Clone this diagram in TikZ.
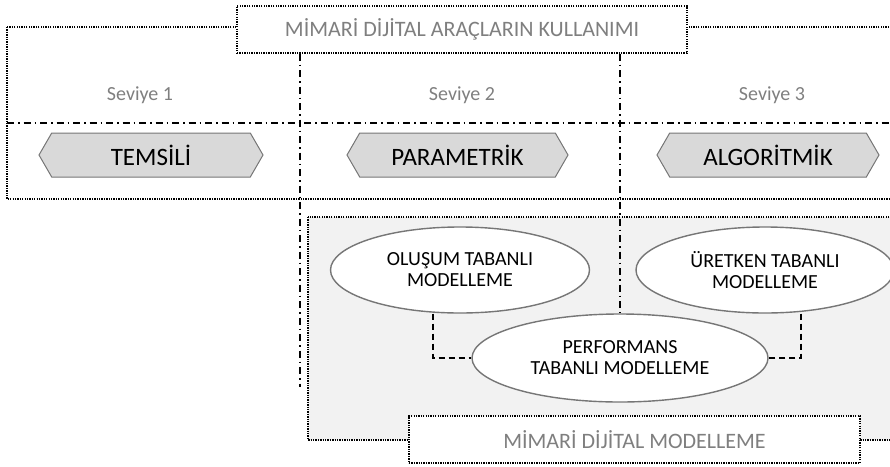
\documentclass[tikz,border=0pt]{standalone}
\usepackage{fontspec}
\setmainfont{Carlito}
\usepackage{xcolor}
\usepackage{tikz}
\usetikzlibrary{arrows.meta,positioning,shapes.geometric,shapes.symbols,calc}
\definecolor{DijitalGray}{HTML}{7F7F7F}
\definecolor{DijitalHex}{HTML}{D9D9D9}
\definecolor{DijitalPanel}{HTML}{F2F2F2}
\definecolor{DijitalEdge}{HTML}{767676}

\begin{document}
\begin{tikzpicture}[
  x=1pt,
  y=-1pt,
  every node/.style={font=\fontsize{20}{21}\selectfont},
  frame/.style={draw=black, line width=1.3pt, dash pattern=on 1.3pt off 1.1pt},
  axis/.style={draw=black, line width=1.2pt, dash pattern=on 7pt off 4pt on 1.5pt off 4pt},
  title/.style={frame, fill=white, minimum width=450pt, minimum height=47pt,
    inner sep=0pt, text=DijitalGray, font=\fontsize{22}{24}\selectfont},
  level/.style={text=DijitalGray, inner sep=0pt},
  hexbox/.style={shape=signal, signal to=west and east, signal pointer angle=120,
    draw=DijitalEdge, line width=1pt, fill=DijitalHex, minimum height=44pt,
    inner sep=0pt, font=\fontsize{25}{27}\selectfont},
  model/.style={ellipse, draw=DijitalEdge, line width=1.4pt, fill=white,
    minimum width=259pt, minimum height=86pt, inner sep=0pt, align=center},
  link/.style={draw=black, line width=1.3pt, dash pattern=on 6pt off 4pt}
]
\useasboundingbox (0,0) rectangle (890,466);
\clip (0,0) rectangle (890,466);

\draw[frame] (7,27) rectangle (900,199);
\fill[DijitalPanel] (308,217) rectangle (900,440);
\draw[frame] (308,217) rectangle (900,440);

\draw[axis] (7,123) -- (890,123);

\node[title] (araclar) at (462,29.5) {MİMARİ DİJİTAL ARAÇLARIN KULLANIMI};

\coordinate (axis1) at (300,387);
\draw[axis] (araclar.south -| axis1) -- (axis1);

\node[level] (seviye1) at (140,95) {Seviye 1};
\node[level] (seviye2) at (462,95) {Seviye 2};
\node[level] (seviye3) at (772,95) {Seviye 3};

\node[hexbox, minimum width=224pt] (temsili) at (151,155) {TEMSİLİ};
\node[hexbox, minimum width=221pt] (parametrik) at (457.5,155) {PARAMETRİK};
\node[hexbox, minimum width=222pt] (algoritmik) at (768,155) {ALGORİTMİK};

\node[model] (olusum) at (460,270) {OLUŞUM TABANLI\\MODELLEME};
\node[model, minimum width=258pt] (uretken) at (765,270) {ÜRETKEN TABANLI\\MODELLEME};
\node[model, minimum width=296pt, minimum height=88pt] (performans) at (620,358) {PERFORMANS\\TABANLI MODELLEME};

\draw[axis] (araclar.south -| performans.north) -- (performans.north);

\draw[link] ([xshift=-27pt]olusum.south) |- (performans.west);
\draw[link] ([xshift=36pt]uretken.south) |- (performans.east);

\node[title, minimum width=451pt] (modelleme) at (634.5,439.5) {MİMARİ DİJİTAL MODELLEME};
\end{tikzpicture}
\end{document}
